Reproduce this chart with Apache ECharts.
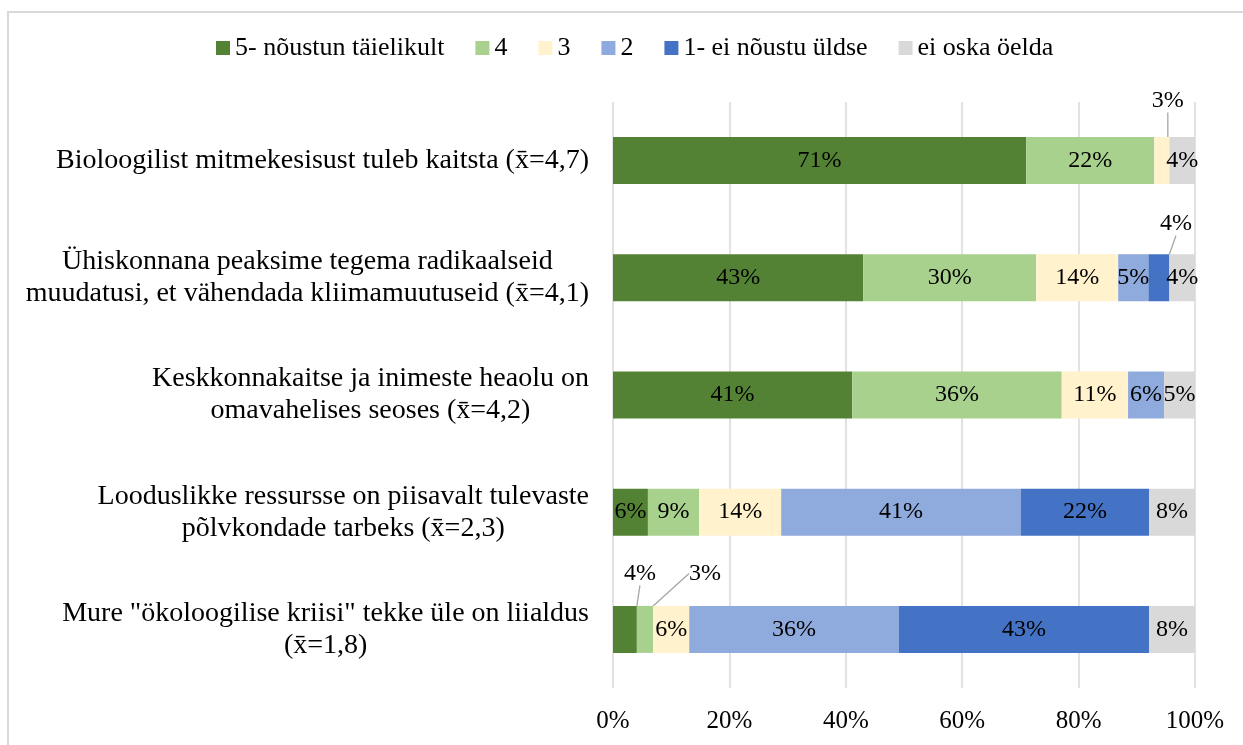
<!DOCTYPE html>
<html>
<head>
<meta charset="utf-8">
<script src="https://cdn.jsdelivr.net/npm/echarts@6/dist/echarts.min.js"></script>
<style>
html,body{margin:0;padding:0;background:#fff;}
#chart{width:1243px;height:745px;}
</style>
</head>
<body>
<div id="chart"></div>
<script>
const categories = [
  'Bioloogilist mitmekesisust tuleb kaitsta (x\u0304=4,7)',
  'Ühiskonnana peaksime tegema radikaalseid\nmuudatusi, et vähendada kliimamuutuseid (x\u0304=4,1)',
  'Keskkonnakaitse ja inimeste heaolu on\nomavahelises seoses (x\u0304=4,2)',
  'Looduslikke ressursse on piisavalt tulevaste\npõlvkondade tarbeks (x\u0304=2,3)',
  'Mure "ökoloogilise kriisi" tekke üle on liialdus\n(x\u0304=1,8)'
];
const seriesNames = ['5- nõustun täielikult', '4', '3', '2', '1- ei nõustu üldse', 'ei oska öelda'];
const v5 = [71.0, 43.0, 41.1, 6.0, 4.1];
const v4 = [22.0, 29.7, 36.0, 8.8, 2.8];
const v3 = [2.6, 14.1, 11.4, 14.1, 6.2];
const v2 = [0, 5.2, 6.2, 41.2, 36.0];
const v1 = [0, 3.6, 0, 22.0, 43.0];
const vNA = [4.4, 4.4, 5.3, 7.9, 7.9];
const xTicks = [0, 20, 40, 60, 80, 100];

const colors = ['#548235', '#a9d18e', '#fff2cc', '#8faadc', '#4472c4', '#d9d9d9'];
const values = [v5, v4, v3, v2, v1, vNA];
const FONT = '"Liberation Serif", "Times New Roman", serif';

// labels moved outside of thin segments: key "series-data" -> offset
const moved = {
  '2-0': [6, -60],
  '4-1': [17, -54],
  '0-4': [15, -56],
  '1-4': [60, -56]
};

const chart = echarts.init(document.getElementById('chart'), null, {renderer: 'canvas'});

const series = values.map((arr, si) => ({
  name: seriesNames[si],
  type: 'bar',
  stack: 'total',
  barWidth: 47,
  data: arr,
  itemStyle: {color: colors[si]},
  label: {
    show: true,
    position: 'inside',
    color: '#000',
    fontSize: 24,
    fontFamily: FONT,
    formatter: p => (p.value < 0.5 ? '' : Math.round(p.value) + '%')
  },
  labelLine: {show: true, lineStyle: {color: '#a6a6a6', width: 1.3}},
  labelLayout: function (params) {
    const key = params.seriesIndex + '-' + params.dataIndex;
    const m = moved[key];
    if (!m) return {};
    const r = params.rect;
    return {
      x: r.x + r.width / 2 + m[0],
      y: r.y + r.height / 2 + m[1],
      align: 'center',
      verticalAlign: 'middle'
    };
  },
  emphasis: {disabled: true}
}));

chart.setOption({
  animation: false,
  backgroundColor: '#fff',
  graphic: [{
    type: 'rect',
    shape: {x: 8, y: 12, width: 1400, height: 900},
    style: {fill: 'none', stroke: '#d9d9d9', lineWidth: 2},
    silent: true,
    z: -10
  }],
  legend: {
    left: 216,
    top: 35,
    itemWidth: 14,
    itemHeight: 14,
    itemGap: 31,
    padding: 0,
    icon: 'rect',
    textStyle: {fontSize: 26, fontFamily: FONT, color: '#000'},
    data: seriesNames
  },
  grid: {left: 613, right: 48, top: 102, bottom: 57, containLabel: false},
  xAxis: {
    type: 'value',
    min: xTicks[0],
    max: xTicks[xTicks.length - 1],
    interval: 20,
    axisLine: {show: false},
    axisTick: {show: false},
    splitLine: {show: true, lineStyle: {color: '#d9d9d9', width: 1.5}},
    axisLabel: {
      margin: 21,
      fontSize: 25,
      fontFamily: FONT,
      color: '#000',
      formatter: '{value}%'
    }
  },
  yAxis: {
    type: 'category',
    inverse: true,
    data: categories,
    axisLine: {show: false},
    axisTick: {show: false},
    axisLabel: {
      margin: 24,
      color: '#000',
      fontSize: 28,
      fontFamily: FONT,
      lineHeight: 32,
      formatter: v => v.split('\n').map(l => '{c|' + l + '}').join('\n'),
      rich: {
        c: {align: 'center', fontSize: 28, fontFamily: FONT, color: '#000', lineHeight: 32}
      }
    }
  },
  series: series
});
</script>
</body>
</html>
